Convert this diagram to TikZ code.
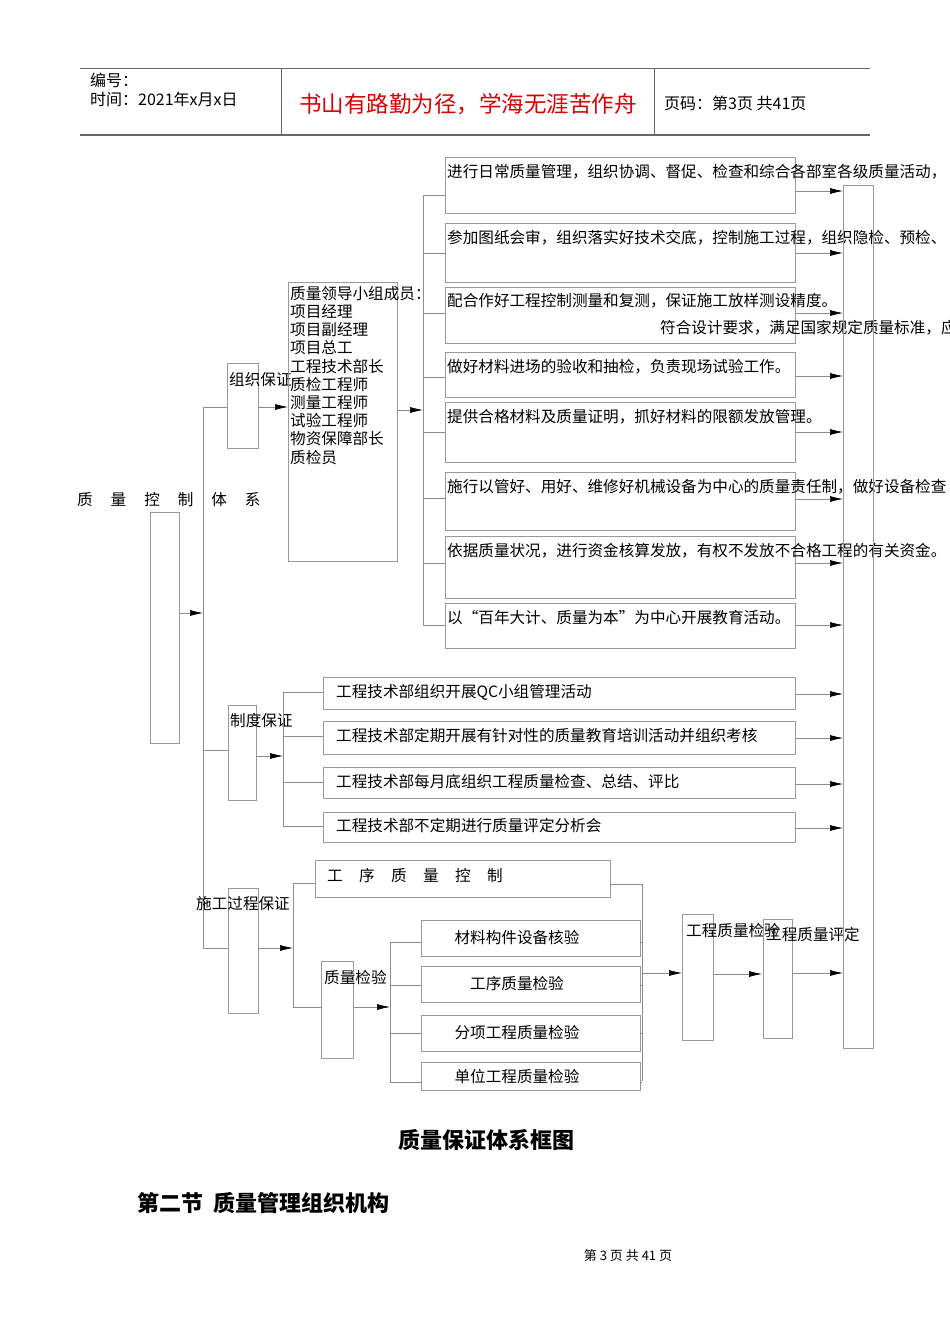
\documentclass[tikz,border=0pt]{standalone}
\usepackage{fontspec}
\setmainfont{Noto Sans CJK SC}
\usetikzlibrary{arrows.meta}
\begin{document}
\begin{tikzpicture}[x=1pt,y=-1pt,
 ln/.style={draw=black!45,line width=0.6pt},
 bx/.style={draw=black!40,line width=0.6pt},
 ar/.style={draw=black!45,line width=0.6pt,-{Latex[length=13pt,width=6pt,black]}},
 tx/.style={anchor=west,inner sep=0pt,font=\fontsize{15.6}{17}\selectfont},
 hd/.style={anchor=west,inner sep=0pt,font=\fontsize{16}{17}\selectfont}]
\useasboundingbox (0,0) rectangle (950,1344);
% header
\draw[black!60,line width=0.8pt] (80,68) -- (870,68);
\draw[black!60,line width=1.2pt] (80,135) -- (870,135);
\draw[black!60,line width=0.6pt] (281,68) -- (281,135) (654,68) -- (654,135);
\node[hd] (h1) at (90,80) {编号：};
\node[hd] (h2) at (90,99) {时间：2021年x月x日};
\node[inner sep=0pt,text=red!85!black,font=\fontsize{22.5}{24}\selectfont] (h3) at (468,104) {书山有路勤为径，学海无涯苦作舟};
\node[hd] (h4) at (664,103) {页码：第3页\ 共41页};
% main
\node[tx] (title) at (77,500) {质\hspace{1.15em}量\hspace{1.15em}控\hspace{1.15em}制\hspace{1.15em}体\hspace{1.15em}系};
\draw[bx] (150,512) rectangle (179,743);
\coordinate (m) at (179,613);
\draw[ar] (m) -- (203,613);
\draw[ln] (203,407) -- (203,948);
% 组织保证
\draw[ln] (203,407) -- (227,407);
\draw[bx] (227,363) rectangle (258,448);
\node[tx] (zz) at (229,380) {组织保证};
\draw[ar] (258,407) -- (288,407);
\draw[bx] (288,282) rectangle (397,561);
\node[tx,anchor=north west,align=left,font=\fontsize{15.6}{18.2}\selectfont] (mem) at (290,286) {质量领导小组成员：\\项目经理\\项目副经理\\项目总工\\工程技术部长\\质检工程师\\测量工程师\\试验工程师\\物资保障部长\\质检员};
\draw[ar] (397,410) -- (423,410);
\draw[ln] (423,195) -- (423,625);
\foreach \t/\b/\br/\ty/\ay/\txt in {
157/213/195/172/191/{进行日常质量管理，组织协调、督促、检查和综合各部室各级质量活动，},
223/282/253/238/253/{参加图纸会审，组织落实好技术交底，控制施工过程，组织隐检、预检、},
287/343/313/301/313/{配合作好工程控制测量和复测，保证施工放样测设精度。},
352/397/377/367/376/{做好材料进场的验收和抽检，负责现场试验工作。},
402/462/432/417/432/{提供合格材料及质量证明，抓好材料的限额发放管理。},
472/530/498/487/499/{施行以管好、用好、维修好机械设备为中心的质量责任制，做好设备检查},
536/598/563/551/563/{依据质量状况，进行资金核算发放，有权不发放不合格工程的有关资金。},
603/648/625/618/625/{以“百年大计、质量为本”为中心开展教育活动。}}{
 \draw[bx] (445,\t) rectangle (795,\b);
 \draw[ln] (423,\br) -- (445,\br);
 \node[tx] at (447,\ty) {\txt};
 \draw[ar] (795,\ay) -- (843,\ay);
}
\node[tx] (extra) at (660,328) {符合设计要求，满足国家规定质量标准，应};
% 制度保证
\draw[ln] (203,750) -- (228,750);
\draw[bx] (228,705) rectangle (256,800);
\node[tx] (zd) at (230,721) {制度保证};
\draw[ar] (256,756) -- (283,756);
\draw[ln] (283,692) -- (283,826);
\foreach \t/\b/\c/\txt in {
677/709/692/{工程技术部组织开展QC小组管理活动},
721/754/736/{工程技术部定期开展有针对性的质量教育培训活动并组织考核},
767/798/782/{工程技术部每月底组织工程质量检查、总结、评比},
812/842/826/{工程技术部不定期进行质量评定分析会}}{
 \draw[bx] (323,\t) rectangle (795,\b);
 \draw[ln] (283,\c) -- (323,\c);
 \node[tx] at (336,\c) {\txt};
 \draw[ar] (795,\c+2) -- (843,\c+2);
}
% 施工过程保证
\draw[ln] (203,948) -- (228,948);
\draw[bx] (228,888) rectangle (258,1013);
\node[tx] (sg) at (196,904) {施工过程保证};
\draw[ar] (258,948) -- (293,948);
\draw[ln] (293,883) -- (293,1007);
\draw[bx] (315,860) rectangle (610,897);
\draw[ln] (293,883) -- (315,883);
\node[tx] (gx) at (327,876) {工\hspace{1.05em}序\hspace{1.05em}质\hspace{1.05em}量\hspace{1.05em}控\hspace{1.05em}制};
\draw[ln] (610,884) -- (642,884);
\draw[ln] (293,1007) -- (321,1007);
\draw[bx] (321,961) rectangle (353,1058);
\node[tx] (zj) at (324,977) {质量检验};
\draw[ar] (353,1007) -- (390,1007);
\draw[ln] (390,942) -- (390,1082);
\foreach \t/\b/\c/\txt in {
920/956/942/{材料构件设备核验},
966/1002/985/{工序质量检验},
1015/1051/1033/{分项工程质量检验},
1062/1090/1082/{单位工程质量检验}}{
 \draw[bx] (421,\t) rectangle (640,\b);
 \draw[ln] (390,\c) -- (421,\c);
 \draw[ln] (640,\c) -- (642,\c);
 \node[inner sep=0pt,font=\fontsize{15.6}{17}\selectfont] at (517,{(\t+\b)/2}) {\txt};
}
\draw[ln] (642,884) -- (642,1081);
\draw[ar] (642,973) -- (682,973);
\draw[bx] (682,914) rectangle (713,1040);
\node[tx] (gj) at (686,930) {工程质量检验};
\draw[ar] (713,974) -- (762,974);
\draw[bx] (763,919) rectangle (792,1038);
\node[tx] (gp) at (766,935) {工程质量评定};
\draw[ar] (792,973) -- (843,973);
\draw[bx] (843,185) rectangle (873,1048);
% captions
\node[inner sep=0pt,font=\fontsize{22}{24}\selectfont\bfseries] (cap) at (486,1140) {质量保证体系框图};
\node[anchor=west,inner sep=0pt,font=\fontsize{22}{24}\selectfont\bfseries] (sec) at (137,1203) {第二节\ \ 质量管理组织机构};
\node[inner sep=0pt,font=\fontsize{13}{15}\selectfont] (foot) at (628,1256) {第\ 3\ 页\ 共\ 41\ 页};
\end{tikzpicture}
\end{document}
